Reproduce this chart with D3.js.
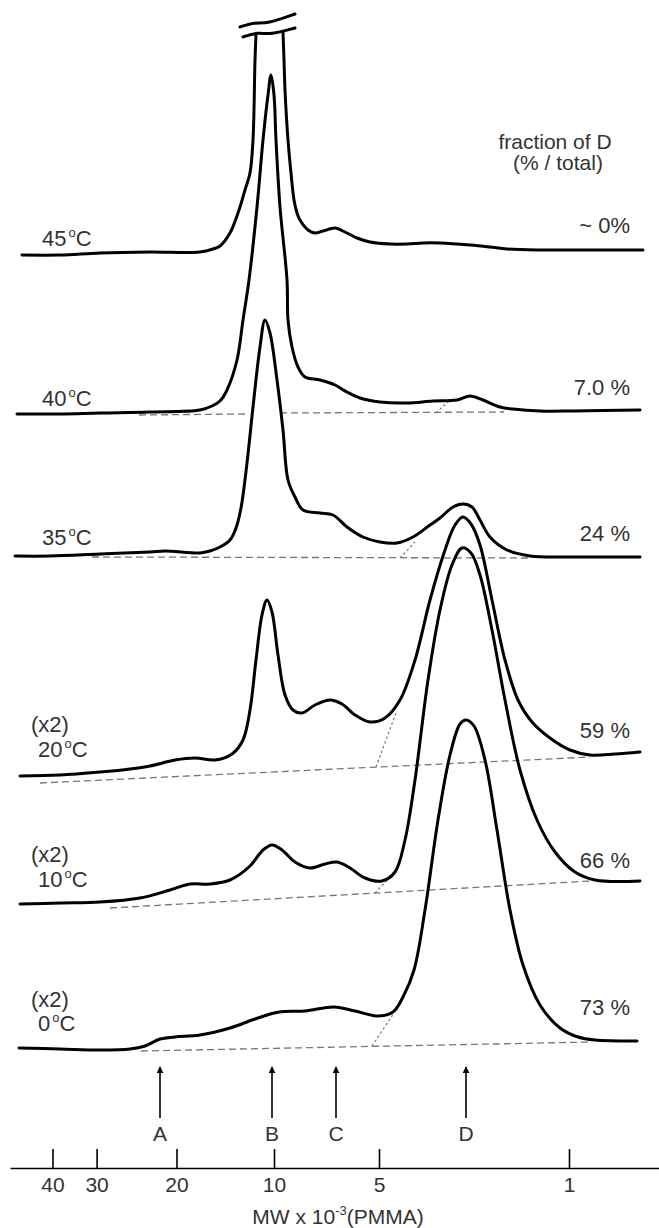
<!DOCTYPE html>
<html><head><meta charset="utf-8">
<script src="https://cdn.jsdelivr.net/npm/d3@7"></script>
<style>body{margin:0;background:#fff}</style>
</head><body><svg id="c" width="659" height="1228"></svg>
<script>
// ---------- data ----------
const tempLabels = ["45", "40", "35", "20", "10", "0"];
const gainLabels = ["", "", "", "(x2)", "(x2)", "(x2)"];
const fractionLabels = ["~ 0%", "7.0 %", "24 %", "59 %", "66 %", "73 %"];
// baseline level of each stacked trace (intensity units)
const baselineOffsets = [94.5, 78.6, 64.4, 42.8, 29.8, 15.2];
// label heights above each baseline
const tempLabelLift = [0.9, 0.8, 1.1, 1.5, 1.5, 1.7];
const gainLabelLift = [0, 0, 0, 4.0, 4.0, 4.1];
const fractionLift = [2.2, 1.9, 1.5, 3.4, 3.4, 3.3];

// traces: [elution, signal above baseline]
const trace45 = [[2.2,0],[6,0],[10,0.2],[15,0.3],[20,0.3],[21.3,0.6],[22,0.9],[23,2.2],[23.8,4.2],[24.5,6.5],[25,8.2],[25.3,11.5],[25.5,19.5],[25.6,22.1],
  [26.9,null],
  [28.3,22.3],[28.4,19.5],[28.5,16.5],[28.8,11.5],[29.1,8.2],[29.4,5.5],[29.7,4.2],[30,3.5],[30.8,2.5],[31.5,2.2],[32.3,2.4],[33.5,2.7],[34.3,2.4],[35.7,1.7],[37,1.3],[39,1.1],[40.7,1.1],[42.3,1.2],[44,1.2],[47,1.0],[49,0.8],[50.7,0.6],[54,0.5],[60,0.5],[64.3,0.5]];
const trace40 = [[1.7,0],[6,0],[10,0.1],[15,0.2],[20,0.4],[21.2,0.8],[22,1.3],[22.7,2.4],[23.7,5.4],[24.3,9.4],[24.9,13.4],[25.7,20.7],[26.3,27.4],[26.8,31.9],[27.1,33.9],[27.4,31.9],[27.6,27.4],[28,20.7],[28.7,13.4],[28.8,9.4],[29.2,6.7],[29.8,4.7],[30.5,3.7],[32,3.4],[33.5,2.9],[34.7,2.2],[36,1.6],[38,1.2],[40.7,1.1],[43.3,1.3],[45.7,1.4],[47,1.8],[48.3,1.4],[50,0.7],[51.3,0.5],[54,0.3],[57.3,0.3],[64,0.4]];
const trace35 = [[1.5,0],[5,0],[10,0.2],[15,0.4],[16.5,0.5],[20,0.3],[21,0.5],[22,0.9],[23,1.6],[23.6,2.8],[24.1,4.8],[24.7,9.3],[25.3,14.9],[26,20.9],[26.5,23.6],[27,22.3],[27.7,17.6],[28.3,12.6],[28.8,7.6],[29.5,5.9],[30.3,4.6],[32,4.3],[33.3,4.1],[34.7,2.9],[36.3,1.9],[38,1.4],[39.7,1.3],[41.3,1.9],[43,3.1],[44,3.8],[45.3,4.9],[46.3,5.2],[47.2,4.9],[48,3.6],[49,1.9],[50.7,0.6],[53,0],[57.3,-0.1],[64,-0.1]];
const trace20 = [[2,-0.4],[6,-0.3],[10,0],[13,0.3],[15,0.6],[17.5,1.2],[19.5,1.4],[21.5,1.2],[23.2,1.8],[24.3,3.2],[25,6.2],[25.6,11.2],[26.2,15.7],[26.7,17.2],[27.2,16],[27.8,11.7],[28.5,7.7],[29.3,6.2],[30.2,5.9],[31.5,6.7],[33,7.2],[34.2,6.8],[35.5,5.7],[37,5],[38.5,5.4],[40,7.2],[41.5,11.2],[43,17.2],[44.5,22.2],[45.5,24.7],[46.3,25.5],[47.1,24.8],[48,22.7],[49.2,17.2],[50.5,11.2],[51.8,7.2],[53.2,5],[55,3.4],[57,2.2],[59,1.7],[61.5,1.8],[64,2]];
const trace10 = [[2,-0.2],[6,-0.1],[10,0],[14,0.4],[17,1.2],[19,1.8],[21,1.8],[23,2.2],[25,3.6],[26.3,5.2],[27.2,5.7],[28.2,5.2],[29.5,4],[31,3.4],[32.5,3.8],[33.7,4],[35,3.4],[36.5,2.4],[38.2,2.1],[39.5,3],[40.5,6.2],[41.5,12.2],[42.8,22.2],[44,29.2],[45.2,33.7],[46.2,35.4],[47.1,34.9],[48,32.7],[49.2,27.2],[50.5,20.2],[52,13.2],[53.7,8.2],[55.5,5],[57.5,3],[59.5,2.2],[64,2.1]];
const trace0 = [[1.9,0],[6,-0.1],[10,-0.2],[13,-0.1],[14.5,0.2],[16,0.9],[17.5,1.1],[20,1.3],[23,2],[25.5,2.9],[27.9,3.6],[30.5,3.7],[33.4,4.1],[35.5,3.7],[37.8,3.2],[39.3,3.6],[40.3,5.1],[41.4,7.8],[42.5,13.8],[43.8,22.8],[45,29.3],[46,32.4],[46.6,32.8],[47.4,32.2],[48.5,28.8],[49.7,21.8],[51,13.8],[52.3,8.3],[54,4.3],[56,2],[57.8,1.1],[59.5,0.8],[63.7,0.7]];
const traces = [trace45, trace40, trace35, trace20, trace10, trace0];

// dashed integration baselines [x1, s1, x2, s2]
const dashedBaselines = [
  [],
  [[13.9,-0.1,24.5,0],[28,0.1,50.4,0.2]],
  [[9.2,-0.1,53,-0.2]],
  [[4,-1.1,59,1.5]],
  [[11,-0.6,59,2.1]],
  [[14.1,-0.3,59.2,0.6]]
];
// dotted D-peak split lines
const dottedSplits = [null,[43.6,0.1,44.9,1.3],[40,-0.2,41.5,1.4],[37.6,0.5,39.6,5.9],[37.5,0.9,39.3,2.8],[37.2,0.2,39.4,3.5]];

// axis-break marks over the off-scale 45 °C peak (elution, absolute intensity)
const breakLower = [[24.3,116.3],[25.8,116.8],[27.0,116.5],[29.5,117.2]];
const breakUpper = [[24.0,117.3],[25.5,117.8],[26.7,117.6],[29.5,118.6]];

const mwTicks = [40, 30, 20, 10, 5, 1];
const mwTickElution = [5.25, 9.66, 17.65, 27.4, 37.9, 56.9];
const peakNames = ["A", "B", "C", "D"];
const peakElution = [16.0, 27.2, 33.6, 46.6];

// ---------- drawing ----------
const svg = d3.select("#c");
const FONT = "'Liberation Sans', Arial, Helvetica, sans-serif";
const TXT = "#333";
const x = d3.scaleLinear().domain([1, 65.9]).range([10, 659]);
const y = d3.scaleLinear().domain([0, 120]).range([1200, 0]);

const lineGen = off => d3.line()
  .defined(d => d[1] !== null)
  .x(d => x(d[0])).y(d => y(off + d[1]))
  .curve(d3.curveCatmullRom.alpha(0.5));

traces.forEach((tr, i) => {
  const off = baselineOffsets[i];
  dashedBaselines[i].forEach(b => {
    svg.append("line").attr("x1", x(b[0])).attr("y1", y(off + b[1]))
      .attr("x2", x(b[2])).attr("y2", y(off + b[3]))
      .attr("stroke", "#777").attr("stroke-width", 1.3).attr("stroke-dasharray", "7,4");
  });
  const ds = dottedSplits[i];
  if (ds) {
    svg.append("line").attr("x1", x(ds[0])).attr("y1", y(off + ds[1]))
      .attr("x2", x(ds[2])).attr("y2", y(off + ds[3]))
      .attr("stroke", "#777").attr("stroke-width", 1.2).attr("stroke-dasharray", "2.5,2.5");
  }
});

traces.forEach((tr, i) => {
  const off = baselineOffsets[i];
  svg.append("path").datum(tr).attr("d", lineGen(off))
    .attr("fill", "none").attr("stroke", "#000").attr("stroke-width", 3)
    .attr("stroke-linejoin", "round").attr("stroke-linecap", "round");
});

// break marks
const brk = d3.line().x(d => x(d[0])).y(d => y(d[1])).curve(d3.curveBasis);
[breakLower, breakUpper].forEach(b => {
  svg.append("path").datum(b).attr("d", brk).attr("fill", "none")
    .attr("stroke", "#000").attr("stroke-width", 3).attr("stroke-linecap", "round");
});

// temperature labels
traces.forEach((tr, i) => {
  const off = baselineOffsets[i];
  const gx = gainLabels[i] ? 38 : 42;
  const t = svg.append("text").attr("x", gx).attr("y", y(off + tempLabelLift[i]))
    .attr("font-family", FONT).attr("font-size", 22).attr("fill", TXT);
  t.append("tspan").text(tempLabels[i]);
  t.append("tspan").attr("font-size", 13).attr("dx", 2).attr("dy", -9).text("o");
  t.append("tspan").attr("dy", 9).text("C");
  if (gainLabels[i]) {
    svg.append("text").attr("x", 31).attr("y", y(off + gainLabelLift[i]))
      .attr("font-family", FONT).attr("font-size", 22).attr("fill", TXT).text(gainLabels[i]);
  }
  svg.append("text").attr("x", 630).attr("y", y(off + fractionLift[i]))
    .attr("text-anchor", "end").attr("font-family", FONT).attr("font-size", 22)
    .attr("fill", TXT).text(fractionLabels[i]);
});

svg.append("text").attr("x", 555).attr("y", y(105.1)).attr("text-anchor", "middle")
  .attr("font-family", FONT).attr("font-size", 21).attr("fill", TXT).text("fraction of D");
svg.append("text").attr("x", 558).attr("y", y(103.0)).attr("text-anchor", "middle")
  .attr("font-family", FONT).attr("font-size", 21).attr("fill", TXT).text("(% / total)");

// peak arrows
const defs = svg.append("defs");
defs.append("marker").attr("id", "ah").attr("viewBox", "0 0 10 10")
  .attr("refX", 9).attr("refY", 5).attr("markerWidth", 7).attr("markerHeight", 7)
  .attr("orient", "auto").attr("markerUnits", "userSpaceOnUse")
  .append("path").attr("d", "M0,0L10,5L0,10z").attr("fill", "#000");
peakElution.forEach((p, i) => {
  svg.append("line").attr("x1", x(p)).attr("x2", x(p)).attr("y1", y(8.2)).attr("y2", y(13.3))
    .attr("stroke", "#000").attr("stroke-width", 1.6).attr("marker-end", "url(#ah)");
  svg.append("text").attr("x", x(p)).attr("y", y(5.9)).attr("text-anchor", "middle")
    .attr("font-family", FONT).attr("font-size", 21).attr("fill", TXT).text(peakNames[i]);
});

// MW axis
const axis = d3.axisBottom(x).tickValues(mwTickElution)
  .tickFormat((d, i) => mwTicks[i]).tickSizeInner(-19).tickSizeOuter(0).tickPadding(9);
const ag = svg.append("g").attr("transform", `translate(0,${y(3.2)})`).call(axis);
ag.select(".domain").attr("stroke", "#000").attr("stroke-width", 1.6);
ag.selectAll(".tick line").attr("stroke", "#000").attr("stroke-width", 1.6);
ag.selectAll(".tick text").attr("font-family", FONT).attr("font-size", 21).attr("fill", TXT);

const title = svg.append("text").attr("x", 338).attr("y", y(-2.4)).attr("text-anchor", "middle")
  .attr("font-family", FONT).attr("font-size", 21).attr("fill", TXT);
title.append("tspan").text("MW x 10");
title.append("tspan").attr("font-size", 13).attr("dy", -9).text("-3");
title.append("tspan").attr("dy", 9).text("(PMMA)");
</script></body></html>
